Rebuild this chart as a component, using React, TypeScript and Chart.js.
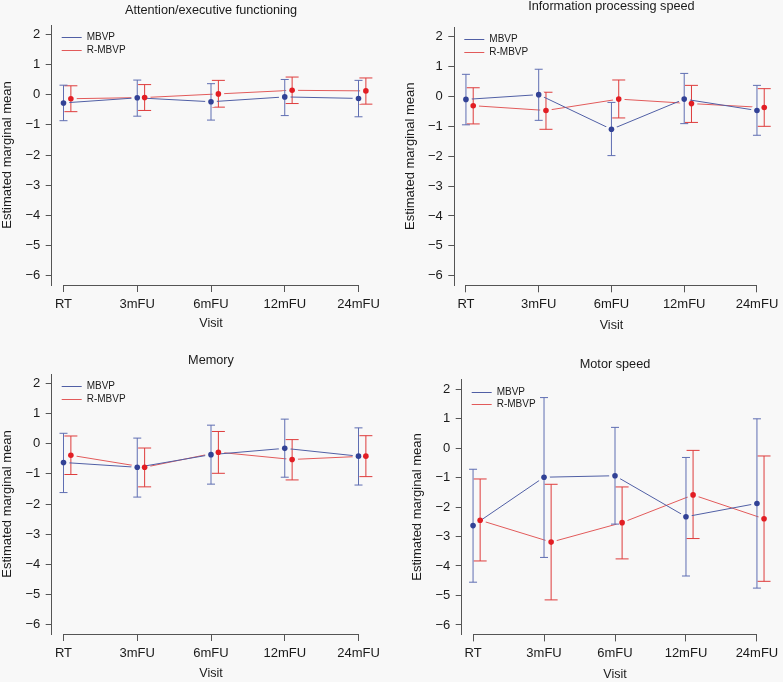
import React, { useEffect, useRef } from 'react';
import { Chart, registerables } from 'chart.js';

Chart.register(...registerables);

// ---------------- data ----------------
const visits = ['RT', '3mFU', '6mFU', '12mFU', '24mFU'];
const yTickValues = [-6, -5, -4, -3, -2, -1, 0, 1, 2];
const seriesNames = ['MBVP', 'R-MBVP'];
const dodge = 0.1;

const panelTitles = ['Attention/executive functioning', 'Information processing speed', 'Memory', 'Motor speed'];

// Attention/executive functioning
const attnMbvpMean = [-0.27, -0.1, -0.23, -0.07, -0.12];
const attnMbvpLow = [-0.86, -0.71, -0.84, -0.69, -0.73];
const attnMbvpHigh = [0.32, 0.49, 0.37, 0.51, 0.48];
const attnRMbvpMean = [-0.13, -0.09, 0.03, 0.15, 0.13];
const attnRMbvpLow = [-0.56, -0.52, -0.41, -0.29, -0.31];
const attnRMbvpHigh = [0.3, 0.34, 0.48, 0.59, 0.56];

// Information processing speed
const infoMbvpMean = [-0.1, 0.06, -1.1, -0.09, -0.47];
const infoMbvpLow = [-0.95, -0.8, -1.98, -0.91, -1.3];
const infoMbvpHigh = [0.74, 0.91, -0.2, 0.77, 0.37];
const infoRMbvpMean = [-0.31, -0.47, -0.09, -0.24, -0.37];
const infoRMbvpLow = [-0.92, -1.1, -0.72, -0.87, -1.0];
const infoRMbvpHigh = [0.29, 0.14, 0.55, 0.37, 0.26];

// Memory
const memMbvpMean = [-0.62, -0.78, -0.36, -0.15, -0.41];
const memMbvpLow = [-1.62, -1.77, -1.34, -1.11, -1.37];
const memMbvpHigh = [0.35, 0.19, 0.62, 0.82, 0.53];
const memRMbvpMean = [-0.38, -0.78, -0.28, -0.52, -0.41];
const memRMbvpLow = [-1.02, -1.43, -0.98, -1.2, -1.09];
const memRMbvpHigh = [0.26, -0.14, 0.41, 0.14, 0.27];

// Motor speed
const motMbvpMean = [-2.63, -0.99, -0.94, -2.33, -1.88];
const motMbvpLow = [-4.55, -3.71, -2.58, -4.34, -4.75];
const motMbvpHigh = [-0.72, 1.71, 0.7, -0.32, 0.99];
const motRMbvpMean = [-2.45, -3.19, -2.53, -1.59, -2.4];
const motRMbvpLow = [-3.83, -5.15, -3.76, -3.07, -4.52];
const motRMbvpHigh = [-1.05, -1.23, -1.32, -0.08, -0.27];

const panelData = [
  { mbvp: [attnMbvpMean, attnMbvpLow, attnMbvpHigh], rmbvp: [attnRMbvpMean, attnRMbvpLow, attnRMbvpHigh] },
  { mbvp: [infoMbvpMean, infoMbvpLow, infoMbvpHigh], rmbvp: [infoRMbvpMean, infoRMbvpLow, infoRMbvpHigh] },
  { mbvp: [memMbvpMean, memMbvpLow, memMbvpHigh], rmbvp: [memRMbvpMean, memRMbvpLow, memRMbvpHigh] },
  { mbvp: [motMbvpMean, motMbvpLow, motMbvpHigh], rmbvp: [motRMbvpMean, motRMbvpLow, motRMbvpHigh] },
];

// ---------------- style / layout ----------------
const FONT = "'Liberation Sans', Arial, Helvetica, sans-serif";
const BG = '#f8f8f8';
const TEXT = '#1a1a1a';
const AXIS = '#555555';
const BLUE_LINE = 'rgb(80,95,165)';
const BLUE_BAR = 'rgb(95,110,178)';
const BLUE_PT = 'rgb(50,66,150)';
const RED_LINE = 'rgb(226,90,90)';
const RED_BAR = 'rgb(222,60,60)';
const RED_PT = 'rgb(226,30,36)';

const layouts = [
  { left: 0, top: 0, W: 391, H: 340, l: 51.7, r: 370.3, t: 25, b: 285, titleMid: 10.8, visitMid: 323.7 },
  { left: 391, top: 0, W: 392, H: 340, l: 63.3, r: 381.3, t: 27.1, b: 285.3, titleMid: 6.7, visitMid: 326 },
  { left: 0, top: 340, W: 391, H: 342, l: 51.7, r: 370.3, t: 34, b: 294, titleMid: 20.8, visitMid: 333.3 },
  { left: 391, top: 340, W: 392, H: 342, l: 70.7, r: 382.7, t: 39.6, b: 294.4, titleMid: 24.8, visitMid: 334.3 },
];

const fmtTick = (v: number) => (v < 0 ? '\u2212' + Math.abs(v) : String(v));

const errorBarPlugin = {
  id: 'errorBars',
  afterDatasetDraw(chart: any, args: any) {
    const ds: any = chart.data.datasets[args.index];
    if (!ds.errLow) return;
    const xs = chart.scales.x;
    const ys = chart.scales.y;
    const ctx = chart.ctx;
    ctx.save();
    ctx.strokeStyle = ds.errColor;
    ctx.lineWidth = 1;
    ds.data.forEach((p: any, i: number) => {
      const x = xs.getPixelForValue(p.x);
      const y1 = ys.getPixelForValue(ds.errLow[i]);
      const y2 = ys.getPixelForValue(ds.errHigh[i]);
      const c = ds.capHalf;
      ctx.beginPath();
      ctx.moveTo(x, y1);
      ctx.lineTo(x, y2);
      ctx.moveTo(x - c, y1);
      ctx.lineTo(x + c, y1);
      ctx.moveTo(x - c, y2);
      ctx.lineTo(x + c, y2);
      ctx.stroke();
    });
    ctx.restore();
  },
};

const axisLinePlugin = {
  id: 'axisLine',
  afterDraw(chart: any) {
    const xs = chart.scales.x;
    const ctx = chart.ctx;
    const y = Math.round(chart.chartArea.bottom) + 0.5;
    ctx.save();
    ctx.strokeStyle = AXIS;
    ctx.lineWidth = 1;
    ctx.beginPath();
    ctx.moveTo(xs.getPixelForValue(0), y);
    ctx.lineTo(xs.getPixelForValue(visits.length - 1), y);
    ctx.stroke();
    ctx.restore();
  },
};

const innerLegendPlugin = {
  id: 'innerLegend',
  afterDraw(chart: any) {
    const { left, top } = chart.chartArea;
    const ctx = chart.ctx;
    const colors = [BLUE_LINE, RED_LINE];
    ctx.save();
    ctx.font = `10px ${FONT}`;
    ctx.textBaseline = 'middle';
    ctx.textAlign = 'left';
    seriesNames.forEach((name, i) => {
      const y = Math.round(top + 12 + i * 12.5) + 0.5;
      ctx.strokeStyle = colors[i];
      ctx.lineWidth = 1;
      ctx.beginPath();
      ctx.moveTo(left + 10, y);
      ctx.lineTo(left + 30, y);
      ctx.stroke();
      ctx.fillStyle = TEXT;
      ctx.fillText(name, left + 35, y);
    });
    ctx.restore();
  },
};

function Panel({ idx }: { idx: number }) {
  const ref = useRef<HTMLCanvasElement>(null);
  const L = layouts[idx];
  useEffect(() => {
    if (!ref.current) return;
    const d = panelData[idx];
    const mk = (vals: number[], off: number) => vals.map((v, i) => ({ x: i + off, y: v }));
    const titleSize = 12.7;
    const titleLH = titleSize * 1.2;
    const pT = L.titleMid - titleLH / 2;
    const pB = L.t - pT - titleLH;
    const visitLH = 12.5 * 1.2;
    const haloR = 5.9;
    const chart = new Chart(ref.current, {
      type: 'line',
      data: {
        datasets: [
          {
            label: seriesNames[0],
            data: mk(d.mbvp[0], 0),
            borderColor: BLUE_LINE,
            borderWidth: 1,
            pointRadius: haloR,
            pointBackgroundColor: BG,
            pointBorderWidth: 0,
            pointHoverRadius: haloR,
            tension: 0,
            order: 2,
            errLow: d.mbvp[1],
            errHigh: d.mbvp[2],
            errColor: BLUE_BAR,
            capHalf: 4,
          } as any,
          {
            label: seriesNames[1],
            data: mk(d.rmbvp[0], dodge),
            borderColor: RED_LINE,
            borderWidth: 1,
            pointRadius: haloR,
            pointBackgroundColor: BG,
            pointBorderWidth: 0,
            pointHoverRadius: haloR,
            tension: 0,
            order: 2,
            errLow: d.rmbvp[1],
            errHigh: d.rmbvp[2],
            errColor: RED_BAR,
            capHalf: 6.5,
          } as any,
          {
            label: seriesNames[0] + ' points',
            data: mk(d.mbvp[0], 0),
            showLine: false,
            pointRadius: 2.8,
            pointBackgroundColor: BLUE_PT,
            pointBorderWidth: 0,
            order: 1,
          } as any,
          {
            label: seriesNames[1] + ' points',
            data: mk(d.rmbvp[0], dodge),
            showLine: false,
            pointRadius: 2.8,
            pointBackgroundColor: RED_PT,
            pointBorderWidth: 0,
            order: 1,
          } as any,
        ],
      },
      options: {
        responsive: false,
        animation: false,
        events: [],
        layout: { padding: { left: 0, top: 0, bottom: 0, right: L.W - L.r } },
        plugins: {
          legend: { display: false },
          tooltip: { enabled: false },
          title: {
            display: true,
            text: panelTitles[idx],
            fullSize: false,
            color: TEXT,
            font: { family: FONT, size: titleSize, weight: 'normal', lineHeight: 1.2 },
            padding: { top: pT, bottom: pB },
          },
        },
        scales: {
          x: {
            type: 'linear',
            min: -0.16,
            max: 4.16,
            afterBuildTicks: (s: any) => {
              s.ticks = visits.map((_, i) => ({ value: i }));
            },
            afterFit: (s: any) => {
              s.height = L.H - L.b;
            },
            ticks: {
              autoSkip: false,
              maxRotation: 0,
              color: TEXT,
              padding: 4.2,
              font: { family: FONT, size: 13, lineHeight: 1.2 },
              callback: (v: any) => visits[Math.round(Number(v))],
            },
            grid: { display: true, drawOnChartArea: false, drawTicks: true, tickLength: 7, color: AXIS, tickColor: AXIS },
            border: { display: false },
            title: {
              display: true,
              text: 'Visit',
              color: TEXT,
              font: { family: FONT, size: 12.5, lineHeight: 1.2 },
              padding: { top: 0, bottom: L.H - L.visitMid - visitLH / 2 },
            },
          },
          y: {
            type: 'linear',
            min: -6.32,
            max: 2.32,
            afterBuildTicks: (s: any) => {
              s.ticks = yTickValues.map((v) => ({ value: v }));
            },
            afterFit: (s: any) => {
              s.width = L.l;
            },
            ticks: {
              autoSkip: false,
              color: TEXT,
              padding: 5.5,
              font: { family: FONT, size: 13, lineHeight: 1.2 },
              callback: (v: any) => fmtTick(Number(v)),
            },
            grid: { display: true, drawOnChartArea: false, drawTicks: true, tickLength: 6, color: AXIS, tickColor: AXIS },
            border: { display: true, color: AXIS, width: 1 },
            title: {
              display: true,
              text: 'Estimated marginal mean',
              color: TEXT,
              font: { family: FONT, size: 13, lineHeight: 1.2 },
              padding: { top: L.l - 43.9 - 7.8, bottom: 0 },
            },
          },
        },
      } as any,
      plugins: [errorBarPlugin, axisLinePlugin, innerLegendPlugin],
    });
    return () => chart.destroy();
  }, [idx]);
  return (
    <canvas
      ref={ref}
      width={L.W}
      height={L.H}
      style={{ position: 'absolute', left: L.left, top: L.top, width: L.W, height: L.H, display: 'block' }}
    />
  );
}

export default function App() {
  return (
    <div style={{ position: 'absolute', left: 0, top: 0, width: 783, height: 682, background: BG, overflow: 'hidden' }}>
      {[0, 1, 2, 3].map((i) => (
        <Panel key={i} idx={i} />
      ))}
    </div>
  );
}
